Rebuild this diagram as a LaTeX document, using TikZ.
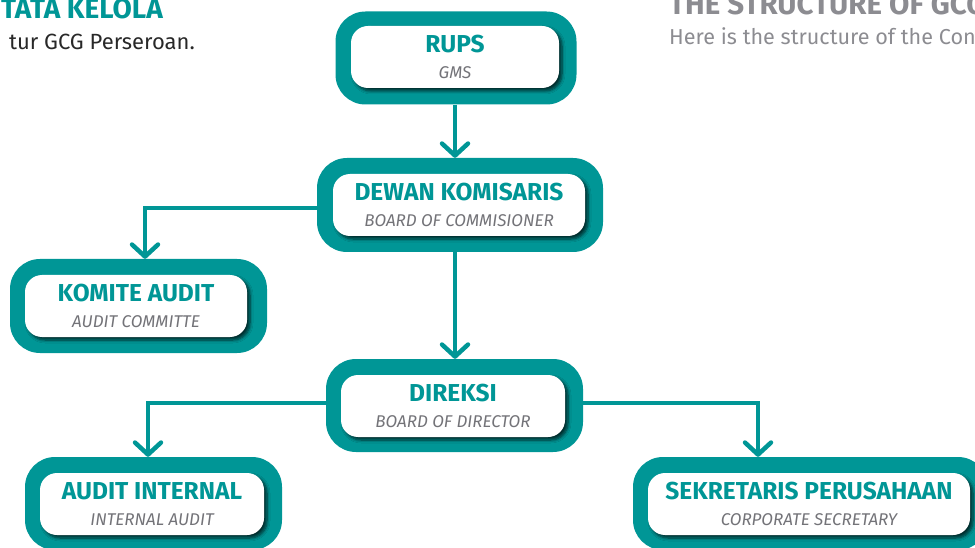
\documentclass[tikz,border=0pt]{standalone}
\usepackage{fontspec}
\setmainfont{Fira Sans}
\usetikzlibrary{arrows.meta,shadows.blur}
\definecolor{tealc}{RGB}{0,150,150}
\definecolor{subgray}{RGB}{115,115,120}
\definecolor{headgray}{RGB}{140,140,145}
\definecolor{bodygray}{RGB}{40,40,40}
\newcommand{\boxtitle}[1]{{\fontsize{24.5}{26}\selectfont\bfseries\color{tealc}#1}}
\newcommand{\boxsub}[1]{{\fontsize{17}{26}\selectfont\itshape\color{subgray}#1}}
\begin{document}
\begin{tikzpicture}[x=1pt,y=-1pt,
  outerbox/.style={fill=tealc, rounded corners=30pt, inner sep=0pt},
  innerbox/.style={fill=white, rounded corners=17pt, inner sep=0pt, align=center,
    font=\fontsize{17}{26}\selectfont,
    blur shadow={shadow xshift=3pt, shadow yshift=-3pt, shadow opacity=70, shadow blur steps=6, shadow blur radius=3pt}},
  conn/.style={draw=tealc, line width=4.5pt, -{Straight Barb[length=12pt,width=26pt,round]}},
  headtxt/.style={inner sep=0pt},
]
\useasboundingbox (0,0) rectangle (975,548);
% header texts
\node[headtxt, anchor=base east, font=\fontsize{28}{32}\selectfont\bfseries, text=tealc] (t1) at (163,19) {TATA KELOLA};
\node[headtxt, anchor=base east, font=\fontsize{22}{26}\selectfont, text=bodygray] (t2) at (195,50) {tur GCG Perseroan.};
\node[headtxt, anchor=base west, font=\fontsize{29.5}{32}\selectfont\bfseries, text=headgray] (t3) at (669,15) {THE STRUCTURE OF GCG};
\node[headtxt, anchor=base west, font=\fontsize{21.6}{26}\selectfont, text=headgray] (t4) at (669,45) {Here is the structure of the Con};
% boxes
\node[outerbox, minimum width=241pt, minimum height=93pt] (rups) at (456,58) {};
\node[innerbox, minimum width=208pt, minimum height=62pt] (rupsin) at (455,57) {\boxtitle{RUPS}\\\boxsub{GMS}};
\node[outerbox, minimum width=286pt, minimum height=94pt] (dewan) at (460,205) {};
\node[innerbox, minimum width=252pt, minimum height=62pt] (dewanin) at (459,205) {\boxtitle{DEWAN KOMISARIS}\\\boxsub{BOARD OF COMMISIONER}};
\node[outerbox, minimum width=257pt, minimum height=94pt] (komite) at (138.5,306) {};
\node[innerbox, minimum width=222pt, minimum height=62pt] (komitein) at (136,306) {\boxtitle{KOMITE AUDIT}\\\boxsub{AUDIT COMMITTE}};
\node[outerbox, minimum width=257pt, minimum height=93pt] (direksi) at (454.5,405.5) {};
\node[innerbox, minimum width=224pt, minimum height=62pt] (direksiin) at (453,406) {\boxtitle{DIREKSI}\\\boxsub{BOARD OF DIRECTOR}};
\node[outerbox, minimum width=257pt, minimum height=93pt] (ai) at (153.5,503.5) {};
\node[innerbox, minimum width=224pt, minimum height=62pt] (aiin) at (152,504) {\boxtitle{AUDIT INTERNAL}\\\boxsub{INTERNAL AUDIT}};
\node[outerbox, minimum width=355pt, minimum height=93pt] (sek) at (810.5,503.5) {};
\node[innerbox, minimum width=322pt, minimum height=62pt] (sekin) at (809,504) {\boxtitle{SEKRETARIS PERUSAHAAN}\\\boxsub{CORPORATE SECRETARY}};
% connectors
\draw[conn] ([xshift=-1pt]rups.south) -- ([xshift=-5pt]dewan.north);
\draw[conn] ([xshift=-5pt]dewan.south) -- ([xshift=0.5pt]direksi.north);
\draw[conn] ([yshift=-3pt]dewan.west) -| ([xshift=6.5pt]komite.north);
\draw[conn] ([yshift=2.5pt]direksi.west) -| ([xshift=-5.5pt]ai.north);
\draw[conn] ([yshift=2.5pt]direksi.east) -| ([xshift=-52.5pt]sek.north);
\end{tikzpicture}
\end{document}
